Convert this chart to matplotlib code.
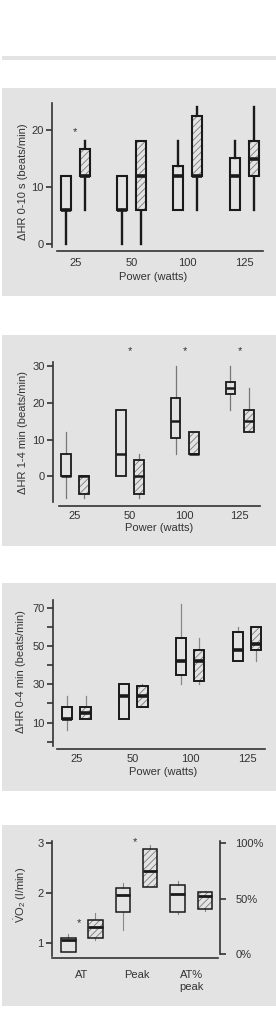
import matplotlib

matplotlib.use("Agg")

import matplotlib.pyplot as plt  # noqa: E402
from matplotlib.patches import PathPatch, Rectangle  # noqa: E402

# values: [whisker low, q1, median, q3, whisker high]
POWER = ["25", "50", "100", "125"]

OPEN_010 = [[0, 6, 6, 12, 12], [0, 6, 6, 12, 12], [6, 6, 12, 13.7, 18], [6, 6, 12, 15.1, 18]]
HATCH_010 = [[6, 12, 12, 16.6, 18], [0, 6, 12, 18, 18], [6, 12, 12, 22.5, 24], [6, 12, 15, 18, 24]]
STARS_010 = [(0, 19.6)]

OPEN_14 = [[-6, 0, 0, 6, 12], [0, 0, 6, 18, 18], [6, 10.4, 15, 21.2, 30], [18, 22.5, 24, 25.6, 30]]
HATCH_14 = [[-6, -4.7, 0, 0, 0], [-6, -4.7, 0, 4.5, 6], [6, 6, 6, 12, 12], [12, 12, 15, 18, 24]]
STARS_14 = [(1, 34), (2, 34), (3, 34)]

OPEN_04 = [[6, 12, 12, 18, 24], [12, 12, 24, 30, 30], [30, 35, 42, 54, 72], [42, 42, 48, 57, 60]]
HATCH_04 = [[12, 12, 15, 18, 24], [18, 18, 24, 29, 30], [30, 31.5, 42, 48, 54], [42, 48, 51, 60, 60]]

VO2_CATS = ["AT", "Peak", "AT%\npeak"]
OPEN_VO2 = [[0.82, 0.82, 1.06, 1.11, 1.19], [1.26, 1.62, 1.96, 2.10, 2.2]]
HATCH_VO2 = [[1.07, 1.11, 1.33, 1.46, 1.6], [2.13, 2.13, 2.45, 2.89, 2.97]]
OPEN_ATPCT = [36, 38, 54, 62, 66]
HATCH_ATPCT = [38.6, 40.4, 52.4, 55.7, 56.6]
STARS_VO2 = [(-0.05, 1.41), (0.98, 3.02)]

W, H = 276, 1026
PANEL_GRAY = "#e3e3e3"
INK = "#1a1a1a"
TEXT = "#333333"
HATCH_GRAY = "#7a7a7a"

plt.rcParams["font.family"] = ["Liberation Sans", "DejaVu Sans"]
plt.rcParams["mathtext.fontset"] = "custom"
plt.rcParams["mathtext.rm"] = "Liberation Sans"
plt.rcParams["hatch.linewidth"] = 0.6


def fig_rect(x0, x1, y_top, y_bot):
    return [x0 / W, 1 - y_bot / H, (x1 - x0) / W, (y_bot - y_top) / H]


def fig_xy(px, py):
    return px / W, 1 - py / H


def make_panel(fig, box_px, c0, step, v0, y0, ppu):
    left, right, top, bottom = box_px
    ax = fig.add_axes(fig_rect(left, right, top, bottom))
    ax.set_facecolor("none")
    ax.set_xlim((left - c0) / step, (right - c0) / step)
    ax.set_ylim(v0 - (bottom - y0) / ppu, v0 + (y0 - top) / ppu)
    for side in ["top", "right"]:
        ax.spines[side].set_visible(False)
    for side in ["left", "bottom"]:
        ax.spines[side].set_color(TEXT)
        ax.spines[side].set_linewidth(1.2)
    ax.tick_params(axis="y", length=4, width=1.2, pad=2, colors=TEXT, labelsize=8)
    ax.tick_params(axis="x", length=0, colors=TEXT, labelsize=8)
    return ax


def draw_boxes(ax, stats, positions, width, hatched, box_lw, med_lw, whisk_lw, whisk_color):
    data = [
        dict(whislo=s[0], q1=s[1], med=s[2], q3=s[3], whishi=s[4], fliers=[])
        for s in stats
    ]
    art = ax.bxp(
        data,
        positions=positions,
        widths=width,
        patch_artist=True,
        showcaps=False,
        showfliers=False,
        manage_ticks=False,
        boxprops=dict(
            facecolor=PANEL_GRAY if hatched else "none",
            edgecolor=HATCH_GRAY if hatched else INK,
            linewidth=0 if hatched else box_lw,
        ),
        medianprops=dict(color=INK, linewidth=med_lw, solid_capstyle="butt"),
        whiskerprops=dict(color=whisk_color, linewidth=whisk_lw),
    )
    for box in art["boxes"]:
        box.set_zorder(2)
        if hatched:
            box.set_hatch("/////")
            ax.add_patch(
                PathPatch(box.get_path(), fill=False, edgecolor=INK, linewidth=box_lw, zorder=2.5)
            )
    for m in art["medians"]:
        m.set_zorder(3)
    for w in art["whiskers"]:
        w.set_zorder(1)


def add_stars(ax, stars, size=8):
    for gx, gy in stars:
        ax.text(gx, gy, "*", ha="center", va="center", fontsize=size, color=TEXT)


fig = plt.figure(figsize=(W / 100, H / 100), dpi=100)
fig.patch.set_facecolor("white")

# grey panel backgrounds (scanned-figure look), behind the axes
for y_top, y_bot in [(56, 60), (88, 296), (335, 546), (583, 791), (825, 1006)]:
    x0, y0 = fig_xy(2, y_bot)
    fig.patches.append(
        Rectangle((x0, y0), 1 - x0, (y_bot - y_top) / H, transform=fig.transFigure,
                  facecolor=PANEL_GRAY, edgecolor="none", zorder=-5)
    )

groups = list(range(len(POWER)))

# ---- panel 1: HR 0-10 s
ax1 = make_panel(fig, (52, 263, 103, 251), 75.2, 56.3, 0, 244, 5.7)
draw_boxes(ax1, OPEN_010, [g - 0.17 for g in groups], 0.178, False, 1.5, 2.6, 1.7, INK)
draw_boxes(ax1, HATCH_010, [g + 0.17 for g in groups], 0.178, True, 1.5, 2.6, 1.7, INK)
add_stars(ax1, STARS_010)
ax1.set_yticks([0, 10, 20])
ax1.spines["left"].set_bounds(-0.5, ax1.get_ylim()[1])
ax1.spines["bottom"].set_bounds((57 - 75.2) / 56.3, ax1.get_xlim()[1])
ax1.set_xticks(groups, POWER)
ax1.tick_params(axis="x", pad=5)
ax1.set_xlabel("Power (watts)", fontsize=8, color=TEXT, va="center")
ax1.xaxis.set_label_coords(*fig_xy(153, 277), transform=fig.transFigure)
ax1.set_ylabel("ΔHR 0-10 s (beats/min)", fontsize=8, color=TEXT, va="center")
ax1.yaxis.set_label_coords(*fig_xy(23.3, 181.7), transform=fig.transFigure)

# ---- panel 2: HR 1-4 min
ax2 = make_panel(fig, (53.3, 260, 361.7, 505.7), 75, 54.9, 0, 476.3, 3.67)
draw_boxes(ax2, OPEN_14, [g - 0.168 for g in groups], 0.177, False, 1.3, 1.8, 0.9, "#777777")
draw_boxes(ax2, HATCH_14, [g + 0.168 for g in groups], 0.177, True, 1.3, 1.8, 0.9, "#777777")
add_stars(ax2, STARS_14)
ax2.set_yticks([0, 10, 20, 30])
ax2.spines["left"].set_bounds(-7.1, ax2.get_ylim()[1])
ax2.spines["bottom"].set_bounds((59 - 75) / 54.9, ax2.get_xlim()[1])
ax2.set_xticks(groups, POWER)
ax2.tick_params(axis="x", pad=3.5)
ax2.set_xlabel("Power (watts)", fontsize=8, color=TEXT, va="center")
ax2.xaxis.set_label_coords(*fig_xy(159, 527.7), transform=fig.transFigure)
ax2.set_ylabel("ΔHR 1-4 min (beats/min)", fontsize=8, color=TEXT, va="center")
ax2.yaxis.set_label_coords(*fig_xy(23.3, 433), transform=fig.transFigure)

# ---- panel 3: HR 0-4 min
ax3 = make_panel(fig, (53.3, 265, 600, 748.7), 76.3, 56.9, 0, 741.7, 1.917)
draw_boxes(ax3, OPEN_04, [g - 0.163 for g in groups], 0.18, False, 1.4, 2.6, 0.9, "#888888")
draw_boxes(ax3, HATCH_04, [g + 0.163 for g in groups], 0.18, True, 1.4, 2.6, 0.9, "#888888")
ax3.set_yticks(range(0, 80, 10), ["", "10", "", "30", "", "50", "", "70"])
ax3.spines["left"].set_bounds(-2.1, ax3.get_ylim()[1])
ax3.spines["bottom"].set_bounds((57.3 - 76.3) / 56.9, ax3.get_xlim()[1])
ax3.set_xticks(groups, POWER)
ax3.tick_params(axis="x", pad=3.5)
ax3.set_xlabel("Power (watts)", fontsize=8, color=TEXT, va="center")
ax3.xaxis.set_label_coords(*fig_xy(162.7, 772.3), transform=fig.transFigure)
ax3.set_ylabel("ΔHR 0-4 min (beats/min)", fontsize=8, color=TEXT, va="center")
ax3.yaxis.set_label_coords(*fig_xy(20.7, 671.7), transform=fig.transFigure)

# ---- panel 4: VO2 at AT / peak, AT as % of peak on the right axis
ax4 = make_panel(fig, (51.7, 220, 840.7, 957.7), 81.8, 54.75, 1, 943, 49.8)
vo2_groups = list(range(len(VO2_CATS)))
draw_boxes(ax4, OPEN_VO2, [g - 0.247 for g in vo2_groups[:2]], 0.267, False, 1.1, 2.0, 0.8, "#888888")
draw_boxes(ax4, HATCH_VO2, [g + 0.247 for g in vo2_groups[:2]], 0.267, True, 1.1, 2.0, 0.8, "#888888")
add_stars(ax4, STARS_VO2)
ax4.set_yticks([1, 2, 3])
ax4.spines["left"].set_bounds(0.745, ax4.get_ylim()[1])
ax4.spines["bottom"].set_bounds((52.3 - 81.8) / 54.75, (218.3 - 81.8) / 54.75)
ax4.set_xticks(vo2_groups, VO2_CATS)
ax4.tick_params(axis="x", pad=9)
ax4.set_ylabel(r"$\dot{\mathrm{V}}\mathrm{O}_2$ (l/min)", fontsize=8, color=TEXT, va="center")
ax4.yaxis.set_label_coords(*fig_xy(20.7, 895), transform=fig.transFigure)

ax4r = ax4.twinx()
ax4r.set_ylim(-(957.7 - 954) / 1.107, (954 - 840.7) / 1.107)
for side in ["top", "left", "bottom"]:
    ax4r.spines[side].set_visible(False)
ax4r.spines["right"].set_color(TEXT)
ax4r.spines["right"].set_linewidth(1.2)
ax4r.spines["right"].set_bounds(0, ax4r.get_ylim()[1])
ax4r.set_yticks([0, 50, 100], ["0%", "50%", "100%"])
ax4r.tick_params(axis="y", length=4, width=1.2, pad=7, colors=TEXT, labelsize=8)
draw_boxes(ax4r, [OPEN_ATPCT], [2 - 0.247], 0.267, False, 1.1, 2.0, 0.8, "#888888")
draw_boxes(ax4r, [HATCH_ATPCT], [2 + 0.247], 0.267, True, 1.1, 2.0, 0.8, "#888888")

fig.savefig("out.png", dpi=100, facecolor=fig.get_facecolor())
